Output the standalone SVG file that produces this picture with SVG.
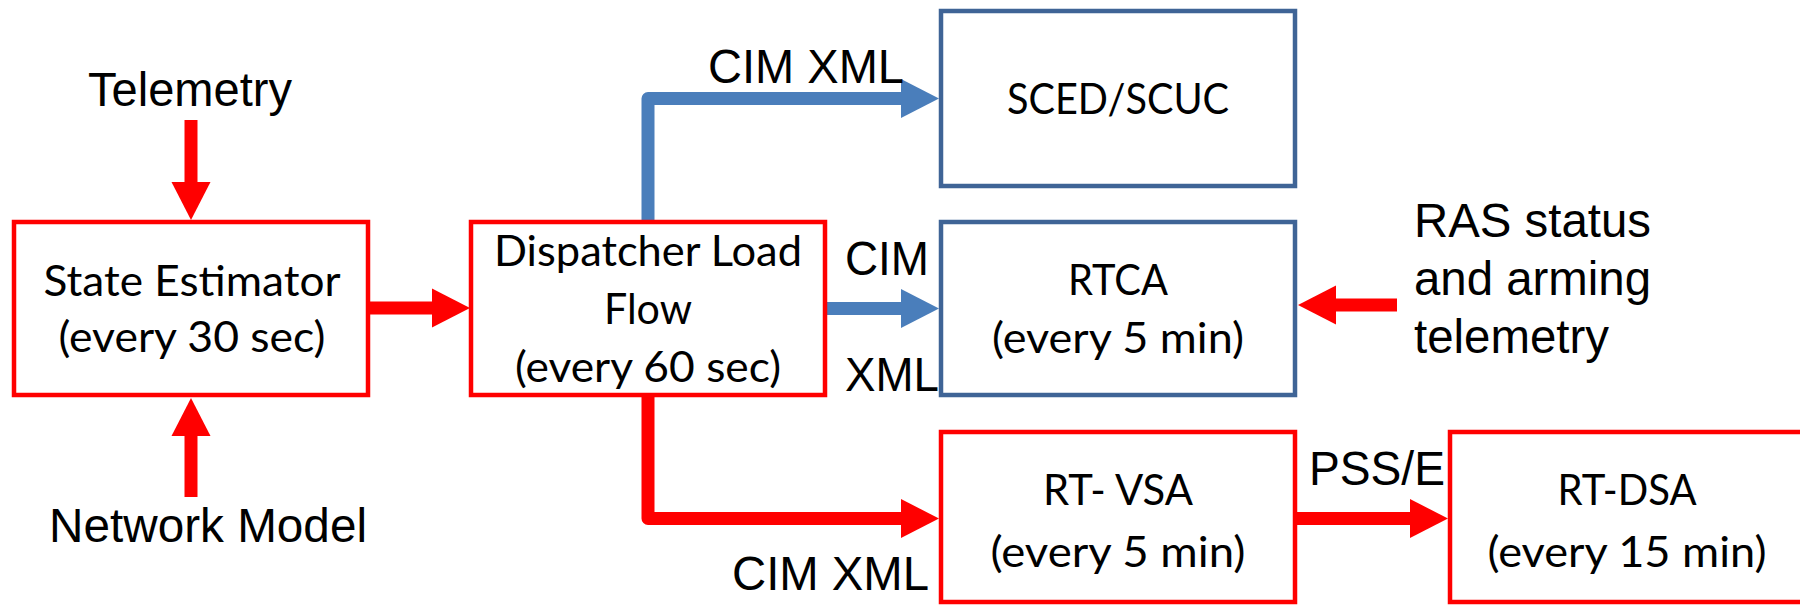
<svg xmlns="http://www.w3.org/2000/svg" width="1800" height="605" viewBox="0 0 1800 605">
  <style>
    .red-box { fill: #FFFFFF; stroke: #FF0000; stroke-width: 4.5; }
    .blue-box { fill: #FFFFFF; stroke: #3F6496; stroke-width: 4.5; }
    .box-text { font-family: Lato, "Open Sans", sans-serif; font-size: 43px; fill: #000000; text-anchor: middle; }
    .label { font-family: "Liberation Sans", Arial, sans-serif; font-size: 48px; fill: #000000; }
    .red-conn { fill: none; stroke: #FF0000; stroke-width: 13; stroke-linejoin: round; }
    .blue-conn { fill: none; stroke: #4A7EBB; stroke-width: 13; stroke-linejoin: round; }
  </style>
  <defs>
    <marker id="head-red" markerUnits="userSpaceOnUse" markerWidth="40" markerHeight="40" refX="0" refY="19.5" orient="auto" overflow="visible">
      <path d="M0,0 L38,19.5 L0,39 Z" fill="#FF0000"/>
    </marker>
    <marker id="head-blue" markerUnits="userSpaceOnUse" markerWidth="40" markerHeight="40" refX="0" refY="19.5" orient="auto" overflow="visible">
      <path d="M0,0 L38,19.5 L0,39 Z" fill="#4A7EBB"/>
    </marker>
  </defs>

  <g id="connectors">
    <path class="red-conn" d="M191,120 V182" marker-end="url(#head-red)"/>
    <path class="red-conn" d="M191,497 V436" marker-end="url(#head-red)"/>
    <path class="red-conn" d="M370,308 H432" marker-end="url(#head-red)"/>
    <path class="blue-conn" d="M648,222 V98.5 H901" marker-end="url(#head-blue)"/>
    <path class="blue-conn" d="M827,308.5 H901" marker-end="url(#head-blue)"/>
    <path class="red-conn" d="M648,397 V518.5 H901" marker-end="url(#head-red)"/>
    <path class="red-conn" d="M1397,305 H1336" marker-end="url(#head-red)"/>
    <path class="red-conn" d="M1297,518.5 H1410" marker-end="url(#head-red)"/>
  </g>

  <g id="labels">
    <text class="label" x="88" y="106" textLength="204" lengthAdjust="spacingAndGlyphs">Telemetry</text>
    <text class="label" x="49" y="542" textLength="318" lengthAdjust="spacingAndGlyphs">Network Model</text>
    <text class="label" x="708" y="83" textLength="196" lengthAdjust="spacingAndGlyphs">CIM XML</text>
    <text class="label" x="845" y="275" textLength="84" lengthAdjust="spacingAndGlyphs">CIM</text>
    <text class="label" x="845" y="391" textLength="94" lengthAdjust="spacingAndGlyphs">XML</text>
    <text class="label" x="732" y="590" textLength="197" lengthAdjust="spacingAndGlyphs">CIM XML</text>
    <text class="label" x="1309" y="485" textLength="136" lengthAdjust="spacingAndGlyphs">PSS/E</text>
    <text class="label" x="1414" y="237" textLength="237" lengthAdjust="spacingAndGlyphs">RAS status</text>
    <text class="label" x="1414" y="295" textLength="237" lengthAdjust="spacingAndGlyphs">and arming</text>
    <text class="label" x="1414" y="353" textLength="195" lengthAdjust="spacingAndGlyphs">telemetry</text>
  </g>

  <g id="state-estimator">
    <rect class="red-box" x="14" y="222" width="354" height="173"/>
    <text class="box-text" x="192" y="296" textLength="297" lengthAdjust="spacingAndGlyphs">State Estimator</text>
    <text class="box-text" x="192" y="352" textLength="267" lengthAdjust="spacingAndGlyphs">(every 30 sec)</text>
  </g>

  <g id="dispatcher-load-flow">
    <rect class="red-box" x="471" y="222" width="354" height="173"/>
    <text class="box-text" x="648" y="266" textLength="308" lengthAdjust="spacingAndGlyphs">Dispatcher Load</text>
    <text class="box-text" x="648" y="324" textLength="88" lengthAdjust="spacingAndGlyphs">Flow</text>
    <text class="box-text" x="648" y="382" textLength="266" lengthAdjust="spacingAndGlyphs">(every 60 sec)</text>
  </g>

  <g id="sced-scuc">
    <rect class="blue-box" x="941" y="11" width="354" height="175"/>
    <text class="box-text" x="1118" y="114" textLength="222" lengthAdjust="spacingAndGlyphs">SCED/SCUC</text>
  </g>

  <g id="rtca">
    <rect class="blue-box" x="941" y="222" width="354" height="173"/>
    <text class="box-text" x="1118" y="295" textLength="100" lengthAdjust="spacingAndGlyphs">RTCA</text>
    <text class="box-text" x="1118" y="353" textLength="252" lengthAdjust="spacingAndGlyphs">(every 5 min)</text>
  </g>

  <g id="rt-vsa">
    <rect class="red-box" x="941" y="432" width="354" height="170"/>
    <text class="box-text" x="1118" y="505" textLength="150" lengthAdjust="spacingAndGlyphs">RT- VSA</text>
    <text class="box-text" x="1118" y="567" textLength="255" lengthAdjust="spacingAndGlyphs">(every 5 min)</text>
  </g>

  <g id="rt-dsa">
    <rect class="red-box" x="1450" y="432" width="370" height="170"/>
    <text class="box-text" x="1627" y="505" textLength="139" lengthAdjust="spacingAndGlyphs">RT-DSA</text>
    <text class="box-text" x="1627" y="567" textLength="279" lengthAdjust="spacingAndGlyphs">(every 15 min)</text>
  </g>
</svg>
